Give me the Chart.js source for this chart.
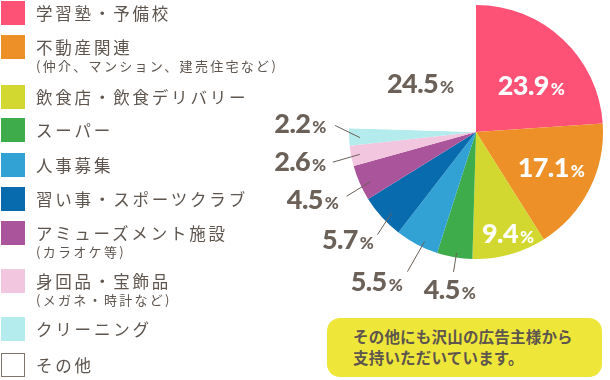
<!DOCTYPE html>
<html><head><meta charset="utf-8">
<script src="https://cdn.jsdelivr.net/npm/chart.js@4"></script>
<style>
html,body{margin:0;padding:0;background:#fff;}
#wrap{position:relative;width:610px;height:380px;overflow:hidden;font-family:"Noto Sans CJK JP","Noto Sans",sans-serif;color:#5d554e;}
#c{position:absolute;left:0;top:0;}
.sq{position:absolute;left:1px;width:24px;height:24px;box-sizing:border-box;}
.lt{position:absolute;left:36px;font-size:16.5px;letter-spacing:2.8px;line-height:24px;white-space:nowrap;}
.st{position:absolute;left:36px;font-size:13px;letter-spacing:2.3px;line-height:16px;white-space:nowrap;}
#note{position:absolute;left:327px;top:318px;width:275px;height:59px;border-radius:13px;background:#eee73a;box-sizing:border-box;padding:8px 0 0 26px;font-weight:bold;font-size:15.5px;line-height:21px;color:#5d554e;letter-spacing:0.2px;}
</style></head>
<body><div id="wrap"><canvas id="c" width="610" height="380"></canvas><div id="legend"></div><div id="note"></div></div>
<script>
// ---- data ----
const categories = ['学習塾・予備校','不動産関連','飲食店・飲食デリバリー','スーパー','人事募集','習い事・スポーツクラブ','アミューズメント施設','身回品・宝飾品','クリーニング','その他'];
const subLabels = ['','(仲介、マンション、建売住宅など)','','','','','(カラオケ等)','(メガネ・時計など)','',''];
const shares = [23.9,17.1,9.4,4.5,5.5,5.7,4.5,2.6,2.2,24.5];
const noteLines = ['その他にも沢山の広告主様から','支持いただいています。'];

// ---- styles ----
const colors = ['#fd5175','#ee9028','#d2d82f','#3eac4a','#32a1d4','#086bae','#a9549b','#f3c6df','#b4ebec','#ffffff'];
const legendTops = [1,35,85,118,153,187,221,269,317,353];
const labelColors = ['#fff','#fff','#fff','#6b6158','#6b6158','#6b6158','#6b6158','#6b6158','#6b6158','#6b6158'];
// [angle delta (deg) from slice middle, radius factor] for text; optional leader line
const labelPlacement = [
  {t:[7,0.565]},
  {t:[-1.8,0.652]},
  {t:[-2.1,0.835]},
  {t:[-0.2,1.261], l:[-0.6,0.965,-0.6,1.116]},
  {t:[5.9,1.415], l:[-2.6,0.954,-1.6,1.225]},
  {t:[2.1,1.319], l:[-1.7,0.919,-4.1,1.12]},
  {t:[1.4,1.391], l:[-1.5,0.916,-2.7,1.137]},
  {t:[1.5,1.406], l:[0,0.932,-1,1.152]},
  {t:[5.1,1.387], l:[-0.5,0.915,4.9,1.111]},
  {t:[-4.9,0.581]}
];

// legend (HTML)
const lg = document.getElementById('legend');
categories.forEach((c,i)=>{
  const top = legendTops[i];
  const sq = document.createElement('div'); sq.className='sq'; sq.style.top=top+'px';
  sq.style.background = colors[i];
  if (colors[i]==='#ffffff') sq.style.border='1px solid #7d746c';
  lg.appendChild(sq);
  const t = document.createElement('div'); t.className='lt'; t.style.top=(top-0.5)+'px'; t.textContent=c; lg.appendChild(t);
  if (subLabels[i]) { const s=document.createElement('div'); s.className='st'; s.style.top=(top+23)+'px'; s.textContent=subLabels[i]; lg.appendChild(s); }
});
document.getElementById('note').innerHTML = noteLines.join('<br>');

const pctLabels = {
  id:'pctLabels',
  afterDatasetsDraw(chart){
    const ctx = chart.ctx;
    const meta = chart.getDatasetMeta(0);
    meta.data.forEach((arc,i)=>{
      const p = arc.getProps(['x','y','startAngle','endAngle','outerRadius'], true);
      const mid = (p.startAngle+p.endAngle)/2;
      const pt = (d,f)=>{const a=mid+d*Math.PI/180, r=f*p.outerRadius; return [p.x+r*Math.cos(a), p.y+r*Math.sin(a)];};
      const pl = labelPlacement[i];
      ctx.save();
      if (pl.l) {
        const a = pt(pl.l[0],pl.l[1]), b = pt(pl.l[2],pl.l[3]);
        ctx.strokeStyle='#6b6158'; ctx.lineWidth=1;
        ctx.beginPath(); ctx.moveTo(a[0],a[1]); ctx.lineTo(b[0],b[1]); ctx.stroke();
      }
      const c = pt(pl.t[0],pl.t[1]);
      const num = shares[i].toFixed(1);
      const nf = '900 27px Lato, "Open Sans", sans-serif', pf = '900 17px Lato, "Open Sans", sans-serif';
      ctx.letterSpacing = '-0.6px';
      ctx.font = nf; const wn = ctx.measureText(num).width;
      ctx.font = pf; const wp = ctx.measureText('%').width;
      const gap = 2;
      const x0 = c[0] - (wn+gap+wp)/2, by = c[1] + 9.5;
      ctx.fillStyle = labelColors[i]; ctx.textBaseline='alphabetic'; ctx.textAlign='left';
      ctx.font = nf; ctx.fillText(num, x0, by);
      ctx.font = pf; ctx.fillText('%', x0+wn+gap, by);
      ctx.restore();
    });
  }
};

new Chart(document.getElementById('c'), {
  type:'pie',
  data:{ labels:categories, datasets:[{ data:shares, backgroundColor:colors, borderWidth:0, hoverOffset:0 }] },
  options:{
    responsive:false, animation:false,
    layout:{ padding:{ left:349, right:7, top:5, bottom:121 } },
    plugins:{ legend:{display:false}, tooltip:{enabled:false} }
  },
  plugins:[pctLabels]
});
</script></body></html>
